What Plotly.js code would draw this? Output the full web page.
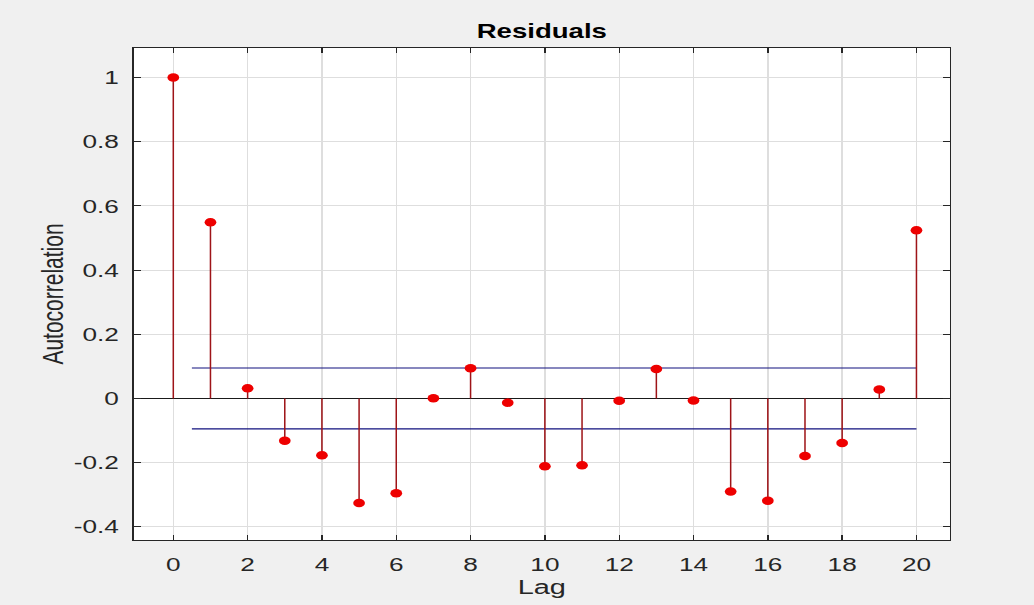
<!DOCTYPE html>
<html>
<head>
<meta charset="utf-8">
<script src="https://cdn.plot.ly/plotly-3.0.1.min.js"></script>
<style>
  html, body { margin: 0; padding: 0; background: #f0f0f0; overflow: hidden; }
  #wrap { width: 1034px; height: 605px; overflow: hidden; }
  /* the figure is laid out narrow and widened horizontally */
  #chart { width: 750px; height: 605px; transform: scaleX(1.378667); transform-origin: 0 0; }
</style>
</head>
<body>
<div id="wrap"><div id="chart"></div></div>
<script>
// Sample autocorrelation of the residuals, lags 0..20
const lags = [0, 1, 2, 3, 4, 5, 6, 7, 8, 9, 10, 11, 12, 13, 14, 15, 16, 17, 18, 19, 20];
const acf = [1.0, 0.549, 0.032, -0.132, -0.177, -0.326, -0.295, 0.001, 0.094, -0.013,
             -0.211, -0.208, -0.007, 0.092, -0.006, -0.290, -0.319, -0.179, -0.139, 0.028, 0.524];

// Approximate 95% confidence bounds
const boundLags = [0.5, 20];
const upperBound = [0.095, 0.095];
const lowerBound = [-0.095, -0.095];

// Axis ticks
const xTickVals = [0, 2, 4, 6, 8, 10, 12, 14, 16, 18, 20];
const yTickVals = [-0.4, -0.2, 0, 0.2, 0.4, 0.6, 0.8, 1];
const yTickText = ['-0.4', '-0.2', '0', '0.2', '0.4', '0.6', '0.8', '1'];

const FONT = 'Liberation Sans, Arial, Helvetica, sans-serif';
const AXIS_COLOR = '#262626';

// stems: one vertical segment per lag, separated by gaps
const stemX = [], stemY = [];
lags.forEach((l, i) => { stemX.push(l, l, null); stemY.push(0, acf[i], null); });

const traces = [
  { x: boundLags, y: upperBound, mode: 'lines', line: { color: '#10107e', width: 1.2 }, hoverinfo: 'skip' },
  { x: boundLags, y: lowerBound, mode: 'lines', line: { color: '#10107e', width: 1.2 }, hoverinfo: 'skip' },
  { x: stemX, y: stemY, mode: 'lines', line: { color: '#9e1418', width: 1.1 }, hoverinfo: 'skip' },
  { x: lags, y: acf, mode: 'markers', marker: { color: '#ee0000', size: 8.5, line: { width: 0 } } }
];

const layout = {
  width: 750,
  height: 605,
  paper_bgcolor: '#f0f0f0',
  plot_bgcolor: '#ffffff',
  showlegend: false,
  margin: { l: 96.7, r: 60.9, t: 48, b: 65, pad: 0 },
  font: { family: FONT, color: AXIS_COLOR },
  title: {
    text: '<b>Residuals</b>',
    font: { family: FONT, size: 20, color: '#000000' },
    x: 0.5, xref: 'paper', xanchor: 'center',
    y: 1 - 31 / 605, yref: 'container', yanchor: 'middle'
  },
  xaxis: {
    range: [-1.065, 20.9],
    tickvals: xTickVals,
    ticks: 'inside', ticklen: 5, tickwidth: 1, tickcolor: AXIS_COLOR,
    showline: true, linecolor: AXIS_COLOR, linewidth: 1, mirror: 'allticks',
    showgrid: true, gridcolor: '#dedede', gridwidth: 1,
    zeroline: false,
    tickfont: { family: FONT, size: 19, color: AXIS_COLOR },
    ticklabelstandoff: 7,
    title: { text: 'Lag', font: { family: FONT, size: 21, color: AXIS_COLOR }, standoff: 2 }
  },
  yaxis: {
    range: [-0.441, 1.092],
    tickvals: yTickVals, ticktext: yTickText,
    ticks: 'inside', ticklen: 5, tickwidth: 1, tickcolor: AXIS_COLOR,
    showline: true, linecolor: AXIS_COLOR, linewidth: 1, mirror: 'allticks',
    showgrid: true, gridcolor: '#dedede', gridwidth: 1,
    zeroline: true, zerolinecolor: '#1a1a1a', zerolinewidth: 1.3,
    tickfont: { family: FONT, size: 19, color: AXIS_COLOR },
    ticklabelstandoff: 6,
    title: { text: 'Autocorrelation', font: { family: FONT, size: 21, color: AXIS_COLOR }, standoff: 1 }
  }
};

Plotly.newPlot('chart', traces, layout, { displayModeBar: false, staticPlot: true });
</script>
</body>
</html>
